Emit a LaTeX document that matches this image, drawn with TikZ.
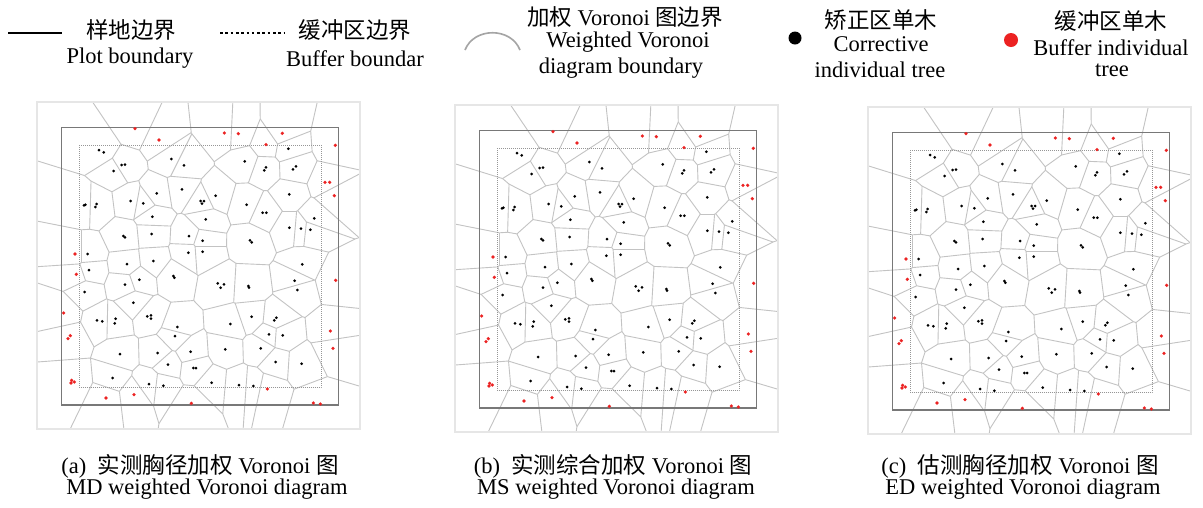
\documentclass[tikz,border=0pt]{standalone}
\usepackage{fontspec}
\setmainfont{Liberation Serif}
\newfontfamily\cjk{Noto Sans CJK SC}
\definecolor{vorgray}{RGB}{195,195,195}
\definecolor{plotgray}{RGB}{120,120,120}
\definecolor{bufgray}{RGB}{150,150,150}
\definecolor{framegray}{RGB}{230,230,230}
\definecolor{treered}{RGB}{236,34,34}
\definecolor{arcgray}{RGB}{165,165,165}

% Voronoi sites (panel-local units: 3 units = 1 px)
\def\sites{214/169,280/210,251/228,424/192,462/211,456/283,380/295,340/325,302/318,164/330,198/331,367/365,365/417,282/425,477/423,173/477,291/507,370/498,475/473,644/199,705/221,775/161,793/218,778/298,557/302,517/321,650/329,703/353,853/370,778/398,813/401,841/404,527/373,518/437,662/439,518/470,177/525,164/591,285/569,328/554,431/545,310/623,209/677,255/678,359/665,442/696,435/723,482/770,383/774,270/777,414/809,494/819,248/849,357/867,400/872,817/508,572/570,656/575,794/557,802/585,665/665,601/687,736/672,717/718,758/721,586/763,692/760,737/801,815/806,545/863,627/870,670/873,315/101,387/135,583/114,625/116,757/115,708/149,916/151,892/262,913/302,135/477,139/538,101/654,117/727,127/860,228/909,312/899,484/925,712/882,860/925,917/556,901/708,909/760}

\def\bdots{207/165,221/172,275/210,285/209,251/228,424/192,462/211,456/283,380/295,340/325,302/318,162/331,166/329,200/327,196/336,367/365,365/417,280/423,285/427,477/423,173/477,291/507,370/498,475/473,644/199,708/217,703/226,775/161,798/214,789/223,778/298,557/302,512/318,522/318,516/326,650/329,698/353,709/353,853/370,778/398,813/401,841/404,527/373,518/437,660/436,665/442,518/470,177/525,164/591,285/569,328/554,430/543,433/548,310/623,201/676,217/679,257/671,254/685,352/664,363/661,363/671,442/696,435/723,482/770,383/774,270/777,414/809,490/819,498/819,248/849,357/867,400/872,817/508,563/565,582/568,572/578,655/573,657/578,794/557,802/585,665/665,601/687,739/668,733/676,717/718,758/721,586/763,692/760,737/801,815/806,545/863,627/870,670/873}

\def\rdots{315/101,387/135,583/114,625/116,757/115,708/149,916/151,885/262,899/262,913/302,135/477,139/538,101/654,121/722,114/731,125/856,133/861,123/864,228/909,312/899,484/925,712/882,850/924,871/927,917/556,901/708,909/760}

% ---- exact Voronoi edges by half-plane interval clipping ----
\newcount\vrI \newcount\vrJ \newcount\vrXa \newcount\vrYa \newcount\vrII
\newcount\vrDx \newcount\vrDy \newcount\vrWx \newcount\vrWy \newcount\vrSx \newcount\vrSy
\newcount\vrTmin \newcount\vrTmax \newcount\vrT \newcount\vrA \newcount\vrB

\gdef\sitelist{}
\foreach \x/\y in \sites {\xdef\sitelist{\unexpanded\expandafter{\sitelist}\noexpand\vrcur{\x}{\y}}}

\def\vrcons{%
  \ifnum\vrA>0
    \vrT=\numexpr250*\vrB/\vrA\relax
    \ifnum\vrT<\vrTmax \vrTmax=\vrT\fi
  \else
    \ifnum\vrA<0
      \vrT=\numexpr250*\vrB/\vrA\relax
      \ifnum\vrT>\vrTmin \vrTmin=\vrT\fi
    \else
      \ifnum\vrB<0 \vrTmin=1 \vrTmax=0 \fi
    \fi
  \fi}

\def\vrinner#1#2{%
  \ifnum\vrTmin<\vrTmax
    \vrA=\numexpr2*(\vrWx*((#1)-\vrXa)+\vrWy*((#2)-\vrYa))\relax
    \vrB=\numexpr(#1)*(#1)+(#2)*(#2)-\vrII-\vrSx*((#1)-\vrXa)-\vrSy*((#2)-\vrYa)\relax
    \vrcons
  \fi}

\def\vrpair#1#2{%
  \vrDx=\numexpr(#1)-\vrXa\relax
  \vrDy=\numexpr(#2)-\vrYa\relax
  \vrWx=-\vrDy
  \vrWy=\vrDx
  \vrSx=\numexpr\vrXa+(#1)\relax
  \vrSy=\numexpr\vrYa+(#2)\relax
  \vrTmin=-2000000000
  \vrTmax=2000000000
  \vrA=\numexpr-2*\vrWx\relax \vrB=\numexpr\vrSx-40\relax \vrcons
  \vrA=\numexpr2*\vrWx\relax \vrB=\numexpr1980-\vrSx\relax \vrcons
  \vrA=\numexpr-2*\vrWy\relax \vrB=\numexpr\vrSy-40\relax \vrcons
  \vrA=\numexpr2*\vrWy\relax \vrB=\numexpr2006-\vrSy\relax \vrcons
  \let\vrcur\vrinner \sitelist \let\vrcur\vrmid
  \ifnum\vrTmin<\vrTmax
    \xdef\vredges{\unexpanded\expandafter{\vredges}\noexpand\draw[vor](\the\dimexpr\vrSx pt/2+\vrWx pt*\vrTmin/250\relax,\the\dimexpr\vrSy pt/2+\vrWy pt*\vrTmin/250\relax)--(\the\dimexpr\vrSx pt/2+\vrWx pt*\vrTmax/250\relax,\the\dimexpr\vrSy pt/2+\vrWy pt*\vrTmax/250\relax);}%
  \fi}

\def\vrmid#1#2{%
  \advance\vrJ by 1
  \ifnum\vrJ>\vrI
    \ifnum\numexpr(\vrXa-(#1))*(\vrXa-(#1))+(\vrYa-(#2))*(\vrYa-(#2))\relax<250000
      \vrpair{#1}{#2}%
    \fi
  \fi}

\def\vrouter#1#2{%
  \advance\vrI by 1
  \vrXa=#1\relax
  \vrYa=#2\relax
  \vrII=\numexpr\vrXa*\vrXa+\vrYa*\vrYa\relax
  \vrJ=0
  \let\vrcur\vrmid \sitelist \let\vrcur\vrouter}

\gdef\vredges{}
\vrI=0
\let\vrcur\vrouter
\sitelist

\tikzset{
  vor/.style={draw=vorgray,line width=0.9pt},
  lab/.style={font=\fontsize{22.5}{26}\selectfont,inner sep=0pt},
  frameb/.style={draw=framegray,line width=2pt},
  plotb/.style={draw=plotgray,line width=1.2pt},
  bufb/.style={draw=bufgray,line width=0.8pt,dash pattern=on 1pt off 1pt},
}

\newcommand\drawpanel[2]{%
  \begin{scope}[shift={(#1,#2)},xscale=1/3,yscale=-1/3]
    \vredges
    \draw[frameb] (20pt,20pt) rectangle (990pt,1003pt);
    \draw[bufb] (147pt,150pt) rectangle (873pt,877pt);
    \draw[plotb] (95pt,97pt) rectangle (925pt,930pt);
    \foreach \x/\y in \bdots {\fill[black] (\x pt,\y pt) circle[radius=4.5pt];}
    \foreach \x/\y in \rdots {\fill[treered] (\x pt,\y pt) circle[radius=5.4pt];}
  \end{scope}%
}

\begin{document}
\begin{tikzpicture}[x=1pt,y=-1pt]
\useasboundingbox (0,0) rectangle (1203,507);
\fill[white] (0,0) rectangle (1203,507);

% legend
\draw[black,line width=1.8pt] (8,33) -- (62,33);
\node[lab] (l1a) at (131,30) {\cjk 样地边界};
\node[lab] (l1b) at (130,58.5) {Plot boundary};
\draw[black,line width=2.6pt,dash pattern=on 2.6pt off 2.7pt] (220,33) -- (285,33);
\node[lab] (l2a) at (355,30) {\cjk 缓冲区边界};
\node[lab] (l2b) at (355,58.5) {Buffer boundar};
\draw[arcgray,line width=1.6pt] (465,50) .. controls (474,27) and (511,27) .. (520,50);
\node[lab] (l3a) at (625,17) {{\cjk 加权} Voronoi {\cjk 图边界}};
\node[lab] (l3b) at (628,42.5) {Weighted Voronoi};
\node[lab] (l3c) at (621,68) {diagram boundary};
\fill[black] (795,38) circle[radius=6.5];
\node[lab] (l4a) at (881,19.5) {\cjk 矫正区单木};
\node[lab] (l4b) at (881,44.5) {Corrective};
\node[lab] (l4c) at (880,69.5) {individual tree};
\fill[treered] (1011,40) circle[radius=7];
\node[lab] (l5a) at (1111,21) {\cjk 缓冲区单木};
\node[lab] (l5b) at (1111,47.5) {Buffer individual};
\node[lab] (l5c) at (1112,70) {tree};

% panels
\drawpanel{30}{95}
\drawpanel{448}{98}
\drawpanel{861}{100}

% captions
\node[lab] (ca1) at (200,466) {(a)\enspace{\cjk 实测胸径加权} Voronoi {\cjk 图}};
\node[lab] (ca2) at (207,489) {MD weighted Voronoi diagram};
\node[lab] (cb1) at (613,466) {(b)\enspace{\cjk 实测综合加权} Voronoi {\cjk 图}};
\node[lab] (cb2) at (616,489) {MS weighted Voronoi diagram};
\node[lab] (cc1) at (1020,466) {(c)\enspace{\cjk 估测胸径加权} Voronoi {\cjk 图}};
\node[lab] (cc2) at (1023,489) {ED weighted Voronoi diagram};
\end{tikzpicture}
\end{document}
